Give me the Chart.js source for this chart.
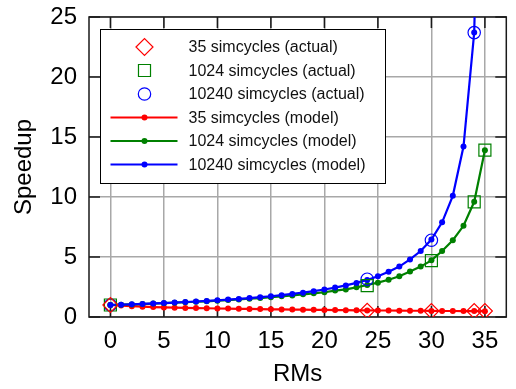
<!DOCTYPE html>
<html>
<head>
<meta charset="utf-8">
<script src="https://cdn.jsdelivr.net/npm/chart.js@4/dist/chart.umd.min.js"></script>
<style>
  html, body { margin: 0; padding: 0; background: #fff; }
</style>
</head>
<body>
<canvas id="speedupChart" width="516" height="389"></canvas>
<script>
// RMs on the x axis (model curves have one point per RM)
const rms = [0, 1, 2, 3, 4, 5, 6, 7, 8, 9, 10, 11, 12, 13, 14, 15, 16, 17,
  18, 19, 20, 21, 22, 23, 24, 25, 26, 27, 28, 29, 30, 31, 32, 33, 34, 35];

// model speedups
const model35 = [1.0, 0.95, 0.9, 0.86, 0.83, 0.8, 0.78, 0.76, 0.74, 0.73, 0.71, 0.7,
  0.68, 0.67, 0.66, 0.64, 0.63, 0.62, 0.61, 0.6, 0.59, 0.58, 0.57, 0.56, 0.55, 0.54,
  0.54, 0.53, 0.52, 0.52, 0.51, 0.5, 0.5, 0.49, 0.49, 0.48];
const model1024 = [1.0, 1.03, 1.05, 1.08, 1.12, 1.15, 1.19, 1.23, 1.27, 1.31, 1.36, 1.41,
  1.46, 1.52, 1.58, 1.65, 1.72, 1.8, 1.89, 1.97, 2.06, 2.2, 2.3, 2.47, 2.67, 2.86,
  3.1, 3.4, 3.8, 4.2, 4.72, 5.5, 6.4, 7.6, 9.6, 13.9];
const model10240 = [1.0, 1.03, 1.06, 1.09, 1.13, 1.16, 1.2, 1.25, 1.29, 1.34, 1.39, 1.45,
  1.51, 1.58, 1.65, 1.73, 1.82, 1.92, 2.03, 2.15, 2.29, 2.45, 2.63, 2.84, 3.09, 3.4,
  3.78, 4.2, 4.8, 5.5, 6.45, 7.89, 10.1, 14.2, 23.7, 60];

// measured speedups
const actual35Rms = [0, 24, 30, 34, 35];
const actual35 = [1.0, 0.52, 0.5, 0.5, 0.5];
const actual1024Rms = [0, 24, 30, 34, 35];
const actual1024 = [1.0, 2.62, 4.7, 9.6, 13.9];
const actual10240Rms = [0, 24, 30, 34];
const actual10240 = [1.0, 3.15, 6.4, 23.7];

const xTicks = [0, 5, 10, 15, 20, 25, 30, 35];
const yTicks = [0, 5, 10, 15, 20, 25];

const legendLabels = [
  "35 simcycles (actual)",
  "1024 simcycles (actual)",
  "10240 simcycles (actual)",
  "35 simcycles (model)",
  "1024 simcycles (model)",
  "10240 simcycles (model)",
];

const RED = "#ff0000";
const GREEN = "#008000";
const BLUE = "#0000ff";

const toPoints = (xs, ys) => xs.map((x, i) => ({ x: x, y: ys[i] }));

Chart.defaults.font.family = "'Liberation Sans', Arial, Helvetica, sans-serif";
Chart.defaults.color = "#000";

function actualSet(label, xs, ys, color, style, radius) {
  return {
    label: label,
    data: toPoints(xs, ys),
    showLine: false,
    pointStyle: style,
    pointRadius: radius,
    pointBorderWidth: 1.2,
    borderColor: color,
    backgroundColor: "rgba(0,0,0,0)",
    order: 0,
  };
}

function modelSet(label, ys, color, order) {
  return {
    label: label,
    data: toPoints(rms, ys),
    showLine: true,
    borderColor: color,
    backgroundColor: color,
    borderWidth: 2.2,
    pointRadius: 3,
    pointBorderWidth: 0,
    pointBackgroundColor: color,
    tension: 0,
    order: order,
  };
}

// frame with inward tick marks on all four sides
const framePlugin = {
  id: "frame",
  beforeDatasetsDraw(chart) {
    const { ctx, chartArea: a, scales } = chart;
    const tick = 11;
    ctx.save();
    ctx.strokeStyle = "#1a1a1a";
    ctx.lineWidth = 1.5;
    ctx.beginPath();
    xTicks.forEach((v) => {
      const px = scales.x.getPixelForValue(v);
      ctx.moveTo(px, a.bottom);
      ctx.lineTo(px, a.bottom - tick);
      ctx.moveTo(px, a.top);
      ctx.lineTo(px, a.top + tick);
    });
    yTicks.forEach((v) => {
      const py = scales.y.getPixelForValue(v);
      ctx.moveTo(a.left, py);
      ctx.lineTo(a.left + tick, py);
      ctx.moveTo(a.right, py);
      ctx.lineTo(a.right - tick, py);
    });
    ctx.stroke();
    ctx.strokeRect(a.left, a.top, a.right - a.left, a.bottom - a.top);
    ctx.restore();
  },
};

// boxed legend inside the plot, top-left
const boxLegendPlugin = {
  id: "boxLegend",
  afterDraw(chart) {
    const { ctx, chartArea: a } = chart;
    const left = a.left + 11.5;
    const top = a.top + 12.5;
    const w = 285;
    const h = 154;
    ctx.save();
    ctx.fillStyle = "#fff";
    ctx.fillRect(left, top, w, h);
    ctx.strokeStyle = "#000";
    ctx.lineWidth = 1;
    ctx.strokeRect(left, top, w, h);

    ctx.font = "16px 'Liberation Sans', Arial, Helvetica, sans-serif";
    ctx.textBaseline = "middle";
    ctx.textAlign = "left";

    chart.data.datasets.forEach((ds, i) => {
      const cy = top + 17.5 + i * 23.5;
      const cx = left + 44;
      if (ds.showLine) {
        ctx.strokeStyle = ds.borderColor;
        ctx.lineWidth = 2.2;
        ctx.beginPath();
        ctx.moveTo(left + 10, cy);
        ctx.lineTo(left + 77, cy);
        ctx.stroke();
        ctx.fillStyle = ds.borderColor;
        ctx.beginPath();
        ctx.arc(cx, cy, 3, 0, Math.PI * 2);
        ctx.fill();
      } else {
        ctx.strokeStyle = ds.borderColor;
        ctx.fillStyle = "rgba(0,0,0,0)";
        ctx.lineWidth = ds.pointBorderWidth;
        Chart.helpers.drawPoint(ctx, {
          pointStyle: ds.pointStyle,
          radius: ds.pointStyle === "rectRot" ? 8.5 : ds.pointRadius,
          borderWidth: ds.pointBorderWidth,
          rotation: 0,
        }, cx, cy);
      }
      ctx.fillStyle = "#111";
      ctx.fillText(legendLabels[i], left + 88, cy + 1);
    });
    ctx.restore();
  },
};

const ctx = document.getElementById("speedupChart").getContext("2d");

const speedupChart = new Chart(ctx, {
  type: "scatter",
  data: {
    datasets: [
      actualSet(legendLabels[0], actual35Rms, actual35, RED, "rectRot", 7.5),
      actualSet(legendLabels[1], actual1024Rms, actual1024, GREEN, "rect", 8.5),
      actualSet(legendLabels[2], actual10240Rms, actual10240, BLUE, "circle", 6.2),
      modelSet(legendLabels[3], model35, RED, 3),
      modelSet(legendLabels[4], model1024, GREEN, 2),
      modelSet(legendLabels[5], model10240, BLUE, 1),
    ],
  },
  options: {
    responsive: false,
    animation: false,
    devicePixelRatio: 1,
    layout: { padding: { top: 17, right: 6, left: 0, bottom: 0 } },
    plugins: {
      legend: { display: false },
      tooltip: { enabled: false },
    },
    scales: {
      x: {
        type: "linear",
        min: -2,
        max: 37,
        afterBuildTicks: (s) => { s.ticks = xTicks.map((v) => ({ value: v })); },
        afterFit: (s) => {
          s.height = 72;
          s.paddingLeft = 0;
          s.paddingRight = 0;
        },
        grid: { color: "#a8a8a8", lineWidth: 1.5, drawTicks: false },
        border: { display: false },
        ticks: { padding: 10, color: "#000", font: { size: 24 }, maxRotation: 0 },
        title: {
          display: true,
          text: "RMs",
          color: "#000",
          font: { size: 24 },
          padding: { top: 0, bottom: 0 },
        },
      },
      y: {
        type: "linear",
        min: 0,
        max: 25,
        afterBuildTicks: (s) => { s.ticks = yTicks.map((v) => ({ value: v })); },
        afterFit: (s) => {
          s.width = 89;
          s.paddingTop = 0;
          s.paddingBottom = 0;
        },
        grid: { color: "#a8a8a8", lineWidth: 1.5, drawTicks: false },
        border: { display: false },
        ticks: { padding: 12, color: "#000", font: { size: 24 } },
        title: {
          display: true,
          text: "Speedup",
          color: "#000",
          font: { size: 24 },
          padding: { top: 10, bottom: 0 },
        },
      },
    },
  },
  plugins: [framePlugin, boxLegendPlugin],
});
</script>
</body>
</html>
